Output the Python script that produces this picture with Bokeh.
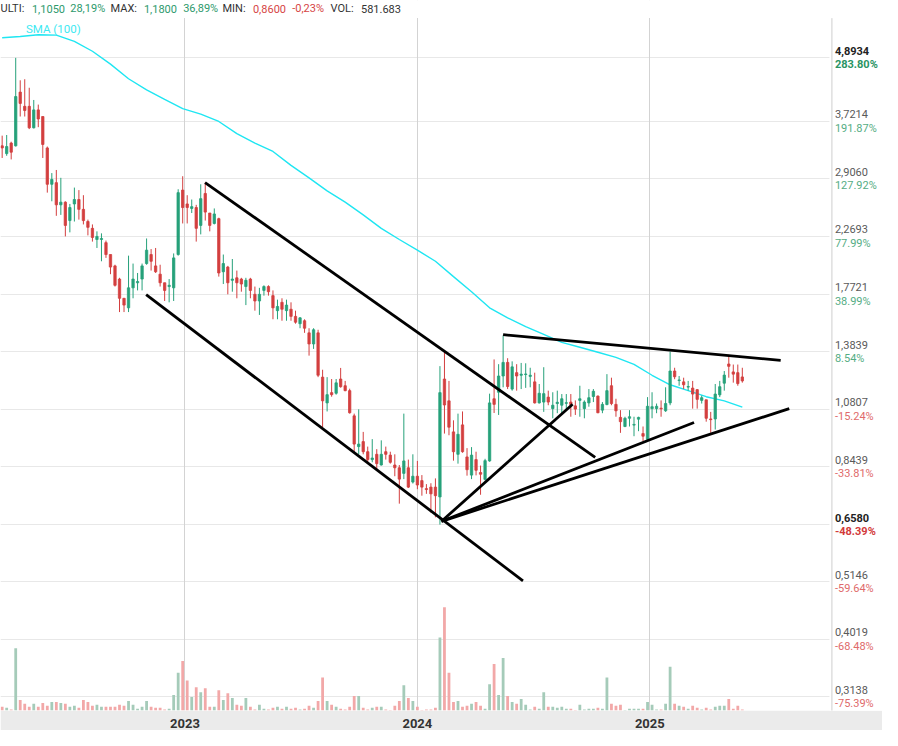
import numpy as np
from bokeh.plotting import figure
from bokeh.models import Range1d, LinearScale, LogScale, FixedTicker, Grid, ColumnDataSource
from bokeh.core.properties import value
from bokeh.embed import file_html
from bokeh.resources import INLINE

# ---------------- data (weekly candles, index 0 = first visible week) ----------------
opens = [3.35, 3.24, 3.39, 3.35, 4.22, 3.97, 3.97, 3.62, 3.91, 3.80,
         3.32, 2.84, 2.86, 2.60, 2.63, 2.43, 2.61, 2.66, 2.55, 2.42,
         2.35, 2.24, 2.24, 2.21, 2.10, 2.00, 1.89, 1.74, 1.67, 1.82,
         1.86, 1.89, 2.02, 2.10, 2.00, 1.93, 1.86, 1.83, 1.82, 2.10,
         2.77, 2.61, 2.56, 2.57, 2.38, 2.73, 2.51, 2.40, 2.45, 1.95,
         1.99, 1.88, 1.90, 1.89, 1.83, 1.89, 1.77, 1.72, 1.80, 1.83,
         1.76, 1.65, 1.71, 1.65, 1.66, 1.61, 1.56, 1.58, 1.50, 1.43,
         1.50, 1.24, 1.11, 1.16, 1.157, 1.23, 1.195, 1.17, 1.05, 0.92,
         0.94, 0.90, 0.870, 0.89, 0.85, 0.90, 0.887, 0.85, 0.84, 0.82,
         0.84, 0.79, 0.81, 0.795, 0.768, 0.773, 0.773, 0.741, 1.23, 1.12,
         0.98, 0.89, 1.01, 0.88, 0.814, 0.87, 0.823, 0.799, 0.865, 1.13,
         1.162, 1.246, 1.321, 1.178, 1.264, 1.250, 1.254, 1.244, 1.215, 1.110,
         1.114, 1.138, 1.083, 1.107, 1.099, 1.108, 1.114, 1.096, 1.122, 1.083,
         1.110, 1.141, 1.143, 1.076, 1.102, 1.195, 1.103, 1.043, 1.003, 1.039,
         1.009, 1.035, 0.973, 0.949, 1.083, 1.083, 1.085, 1.073, 1.110, 1.273,
         1.222, 1.215, 1.188, 1.183, 1.175, 1.122, 1.125, 1.036, 1.036, 1.149,
         1.208, 1.312, 1.268, 1.264, 1.241]
highs = [3.50, 3.51, 3.41, 4.89, 4.44, 4.46, 4.30, 4.08, 4.00, 3.80,
         3.34, 2.98, 3.02, 2.92, 2.64, 2.61, 2.80, 2.77, 2.71, 2.44,
         2.39, 2.32, 2.30, 2.23, 2.10, 2.01, 1.90, 1.74, 2.09, 2.02,
         1.94, 2.02, 2.25, 2.15, 2.16, 2.01, 1.86, 1.89, 2.11, 2.78,
         2.94, 2.71, 2.66, 2.60, 2.84, 2.86, 2.51, 2.56, 2.46, 2.10,
         2.00, 2.06, 1.96, 1.90, 1.90, 1.90, 1.83, 1.82, 1.84, 1.84,
         1.80, 1.73, 1.74, 1.73, 1.71, 1.65, 1.605, 1.59, 1.53, 1.53,
         1.52, 1.28, 1.24, 1.23, 1.23, 1.29, 1.22, 1.18, 1.06, 1.08,
         0.98, 0.92, 0.95, 0.91, 0.945, 0.92, 0.90, 0.89, 0.85, 1.06,
         0.87, 0.89, 0.865, 0.814, 0.783, 0.786, 0.8025, 1.30, 1.384, 1.22,
         1.03, 1.06, 1.07, 0.914, 0.918, 0.90, 0.848, 0.873, 1.155, 1.338,
         1.311, 1.484, 1.345, 1.327, 1.311, 1.318, 1.316, 1.291, 1.264, 1.204,
         1.294, 1.17, 1.162, 1.17, 1.153, 1.153, 1.153, 1.122, 1.195, 1.122,
         1.178, 1.178, 1.146, 1.114, 1.256, 1.237, 1.130, 1.076, 1.046, 1.076,
         1.046, 1.046, 1.003, 1.138, 1.162, 1.107, 1.122, 1.187, 1.384, 1.291,
         1.246, 1.237, 1.220, 1.220, 1.178, 1.146, 1.125, 1.068, 1.204, 1.220,
         1.273, 1.365, 1.309, 1.309, 1.291]
lows = [3.18, 3.21, 3.16, 3.34, 3.80, 3.80, 3.60, 3.61, 3.63, 3.18,
        2.74, 2.64, 2.48, 2.49, 2.27, 2.31, 2.42, 2.44, 2.39, 2.28,
        2.22, 2.16, 2.04, 2.07, 1.93, 1.83, 1.64, 1.64, 1.64, 1.74,
        1.80, 1.80, 2.01, 1.96, 1.94, 1.83, 1.72, 1.71, 1.72, 2.09,
        2.40, 2.40, 2.51, 2.22, 2.29, 2.43, 2.32, 2.39, 1.91, 1.85,
        1.77, 1.79, 1.74, 1.79, 1.69, 1.74, 1.65, 1.62, 1.76, 1.76,
        1.59, 1.59, 1.58, 1.58, 1.58, 1.56, 1.53, 1.50, 1.36, 1.40,
        1.24, 1.00, 1.07, 1.14, 1.15, 1.185, 1.167, 1.06, 0.90, 0.89,
        0.89, 0.86, 0.86, 0.83, 0.848, 0.87, 0.855, 0.81, 0.72, 0.80,
        0.77, 0.785, 0.766, 0.745, 0.751, 0.693, 0.679, 0.658, 0.973, 0.966,
        0.866, 0.855, 0.896, 0.812, 0.80, 0.813, 0.748, 0.796, 0.862, 1.063,
        1.054, 1.187, 1.178, 1.17, 1.17, 1.178, 1.184, 1.187, 1.107, 1.107,
        1.068, 1.099, 1.039, 1.062, 1.054, 1.076, 1.046, 1.054, 1.046, 1.039,
        1.092, 1.114, 1.062, 1.062, 1.099, 1.099, 1.046, 0.976, 1.000, 1.003,
        0.962, 0.983, 0.942, 0.942, 1.039, 1.062, 1.046, 1.068, 1.099, 1.229,
        1.195, 1.178, 1.170, 1.083, 1.083, 1.107, 1.024, 0.976, 0.990, 1.138,
        1.170, 1.237, 1.211, 1.195, 1.211]
closes = [3.32, 3.34, 3.26, 4.14, 4.02, 3.90, 3.62, 3.91, 3.76, 3.37,
          2.84, 2.90, 2.60, 2.63, 2.38, 2.57, 2.66, 2.55, 2.43, 2.36,
          2.26, 2.27, 2.25, 2.10, 1.99, 1.84, 1.74, 1.69, 1.82, 1.89,
          1.87, 2.00, 2.14, 2.04, 1.95, 1.86, 1.80, 1.84, 2.07, 2.74,
          2.57, 2.57, 2.58, 2.35, 2.67, 2.52, 2.38, 2.50, 1.94, 2.02,
          1.86, 1.89, 1.86, 1.85, 1.88, 1.80, 1.72, 1.77, 1.83, 1.79,
          1.67, 1.68, 1.66, 1.69, 1.61, 1.57, 1.60, 1.53, 1.43, 1.52,
          1.25, 1.12, 1.15, 1.15, 1.21, 1.19, 1.17, 1.064, 0.93, 0.93,
          0.90, 0.87, 0.876, 0.855, 0.89, 0.89, 0.86, 0.84, 0.80, 0.865,
          0.773, 0.81, 0.78, 0.773, 0.765, 0.751, 0.745, 1.16, 1.10, 1.00,
          0.90, 0.97, 0.90, 0.833, 0.887, 0.831, 0.817, 0.866, 1.11, 1.103,
          1.246, 1.321, 1.191, 1.296, 1.246, 1.256, 1.257, 1.250, 1.110, 1.157,
          1.155, 1.114, 1.099, 1.113, 1.130, 1.111, 1.102, 1.081, 1.130, 1.114,
          1.135, 1.167, 1.064, 1.103, 1.170, 1.107, 1.073, 1.024, 1.039, 1.046,
          1.012, 1.043, 0.962, 1.094, 1.092, 1.094, 1.082, 1.107, 1.273, 1.242,
          1.225, 1.200, 1.191, 1.153, 1.127, 1.135, 1.039, 1.033, 1.153, 1.190,
          1.251, 1.299, 1.256, 1.206, 1.220]
volumes = [1.9, 1.4, 0.5, 31.9, 5.4, 3.4, 1.9, 3.4, 1.9, 3.9,
           2.4, 4.4, 4.4, 3.9, 3.4, 1.9, 2.4, 1.4, 5.4, 4.4,
           2.4, 2.9, 1.9, 1.9, 1.9, 1.9, 2.9, 2.4, 4.9, 2.9,
           0.9, 1.9, 4.9, 1.9, 1.4, 1.4, 0.5, 0.9, 7.9, 19.4,
           25.4, 15.4, 6.9, 11.9, 9.4, 11.4, 1.9, 1.9, 10.4, 5.4,
           8.9, 6.4, 2.9, 2.4, 6.4, 1.9, 0.5, 2.9, 0.9, 0.5,
           1.4, 1.9, 0.9, 1.9, 0.9, 1.4, 0.5, 0.9, 2.4, 1.4,
           4.9, 16.9, 4.9, 2.9, 1.9, 0.9, 0.5, 1.9, 7.4, 7.4,
           1.4, 0.5, 1.4, 1.9, 1.9, 0.5, 0.2, 2.4, 4.9, 12.9,
           6.4, 4.9, 1.9, 0.2, 0.5, 0.5, 1.4, 37.4, 52.9, 19.4,
           4.4, 4.9, 1.9, 2.4, 3.4, 4.4, 2.4, 0.9, 13.4, 23.9,
           7.9, 26.9, 7.4, 4.4, 3.4, 5.9, 2.9, 0.5, 1.9, 0.9,
           9.4, 1.9, 1.9, 1.4, 1.9, 0.9, 0.9, 0.2, 2.9, 0.5,
           0.9, 0.9, 1.4, 0.9, 16.9, 3.4, 2.4, 2.9, 0.2, 0.9,
           0.9, 0.9, 0.9, 4.4, 2.9, 0.5, 0.5, 3.4, 22.4, 3.4,
           2.4, 1.9, 0.9, 2.4, 1.4, 0.5, 1.4, 0.5, 1.9, 2.4,
           2.4, 5.9, 0.9, 2.4, 0.5]

sma_index = list(range(0, 165, 4))
sma_values = [5.33, 5.36, 5.40, 5.39, 5.25, 5.03, 4.76, 4.47, 4.26, 4.09,
              3.93, 3.84, 3.72, 3.53, 3.39, 3.27, 3.08, 2.92, 2.76, 2.63,
              2.49, 2.35, 2.24, 2.14, 2.04, 1.91, 1.79, 1.67, 1.60, 1.54,
              1.49, 1.44, 1.41, 1.38, 1.35, 1.31, 1.25, 1.20, 1.17, 1.14,
              1.12, 1.09]

price_ticks = [4.8934, 3.7214, 2.9060, 2.2693, 1.7721, 1.3839, 1.0807, 0.8439, 0.6580, 0.5146, 0.4019, 0.3138]
price_labels = ["4,8934", "3,7214", "2,9060", "2,2693", "1,7721", "1,3839", "1,0807", "0,8439", "0,6580", "0,5146", "0,4019", "0,3138"]
pct_labels = ["283.80%", "191.87%", "127.92%", "77.99%", "38.99%", "8.54%", "-15.24%", "-33.81%", "-48.39%", "-59.64%", "-68.48%", "-75.39%"]
highlighted = [True, False, False, False, False, False, False, False, True, False, False, False]

year_ticks = [40.5, 92, 143.5]
year_labels = ["2023", "2024", "2025"]

# drawn trend lines (candle index, price)
trend_x0 = [44.96, 31.9, 97.35, 97.35, 97.35, 111.0]
trend_y0 = [2.861, 1.767, 0.6674, 0.6674, 0.6674, 1.488]
trend_x1 = [131.4, 115.4, 126.4, 153.3, 174.4, 172.5]
trend_y1 = [0.878, 0.5168, 1.1035, 1.0203, 1.0829, 1.3325]

header_words = ["ULTI:", "1,1050", "28,19%", "MAX:", "1,1800", "36,89%", "MIN:", "0,8600", "-0,23%", "VOL:", "581.683"]
header_kind = ["label", "up", "up", "label", "up", "up", "label", "down", "down", "label", "label"]

# ---------------- layout ----------------
W, H = 882, 730
AXIS_H = 18
REF_W = 898.0
sx = W / REF_W
X0, X1 = -0.37, 195.06
Y0, Y1 = 0.296, 6.256
HEADER_PRICE = 5.80
GRID_END = 183.3
AXIS_X = 183.85
FONT = value("Roboto")

UP, DOWN = "#26a17a", "#d33f3f"
VUP, VDOWN = "#a5cbb9", "#f2a8a8"

p = figure(width=W, height=H, output_backend="svg", toolbar_location=None,
           x_range=Range1d(X0, X1), y_range=Range1d(Y0, Y1),
           y_axis_type="log", y_axis_location=None,
           min_border=0, min_border_bottom=AXIS_H,
           background_fill_color="white", border_fill_color="#ebebeb",
           outline_line_color=None)
p.y_scale = LogScale()
p.grid.visible = False
p.extra_y_ranges = {"vol": Range1d(0, 364)}
p.extra_y_scales = {"vol": LinearScale()}

p.add_layout(Grid(dimension=1, ticker=FixedTicker(ticks=price_ticks),
                  grid_line_color="#e8e8e8", grid_line_width=1))
p.add_layout(Grid(dimension=0, ticker=FixedTicker(ticks=year_ticks),
                  grid_line_color="#d3d3d3", grid_line_width=1))

ax = p.xaxis[0]
ax.ticker = FixedTicker(ticks=year_ticks)
ax.major_label_overrides = {t: l for t, l in zip(year_ticks, year_labels)}
ax.axis_line_color = None
ax.major_tick_line_color = None
ax.minor_tick_line_color = None
ax.major_label_standoff = 2
ax.major_label_text_font = "Roboto"
ax.major_label_text_font_size = "13px"
ax.major_label_text_font_style = "bold"
ax.major_label_text_color = "#333333"

idx = np.arange(len(opens))
o = np.array(opens); c = np.array(closes)
inc = c >= o
src = ColumnDataSource(dict(
    x=idx, o=o, h=np.array(highs), l=np.array(lows), c=c,
    top=np.maximum(o, c), bottom=np.minimum(o, c),
    color=[UP if i else DOWN for i in inc],
    vcolor=[VUP if i else VDOWN for i in inc],
    vol=np.array(volumes)))

p.vbar(x="x", width=0.62, top="vol", bottom=0, fill_color="vcolor", line_color=None,
       y_range_name="vol", source=src)
p.line(sma_index, sma_values, line_color="#1fe6f2", line_width=1.4)
p.segment(x0="x", y0="l", x1="x", y1="h", line_color="color", line_width=1, source=src)
p.vbar(x="x", width=0.52, top="top", bottom="bottom", fill_color="color",
       line_color="color", line_width=0.8, source=src)
p.segment(trend_x0, trend_y0, trend_x1, trend_y1, line_color="black", line_width=2.8)

# header band and right price-scale band (white, covering grid lines)
p.quad(left=[X0], right=[X1], bottom=[HEADER_PRICE], top=[Y1 * 1.2], fill_color="white", line_color=None)
p.quad(left=[GRID_END], right=[X1], bottom=[Y0 * 0.8], top=[Y1 * 1.2], fill_color="white", line_color=None)
p.segment([AXIS_X], [Y0 * 0.8], [AXIS_X], [HEADER_PRICE], line_color="#cfcfcf", line_width=1)

# right price scale labels
pl_norm = dict(x=[], y=[], t=[], pc=[], pct=[])
pl_bold = dict(x=[], y=[], t=[], pc=[], pct=[])
for tv, tl, pt, hl in zip(price_ticks, price_labels, pct_labels, highlighted):
    d = pl_bold if hl else pl_norm
    d["x"].append(AXIS_X); d["y"].append(tv); d["t"].append(tl); d["pct"].append(pt)
    neg = pt.startswith("-")
    if hl:
        d["pc"].append("#d23a3a" if neg else "#2a9464")
    else:
        d["pc"].append("#e06a6a" if neg else "#55ad84")
for d, style, col in ((pl_norm, "normal", "#5a5a5a"), (pl_bold, "bold", "#222222")):
    s = ColumnDataSource(d)
    p.text(x="x", y="y", text="t", source=s, x_offset=3, y_offset=-7,
           text_color=col, text_font=FONT, text_font_size="11px", text_font_style=style,
           text_baseline="middle", text_align="left")
    p.text(x="x", y="y", text="pct", source=s, x_offset=3, y_offset=7,
           text_color="pc", text_font=FONT, text_font_size="11px", text_font_style=style,
           text_baseline="middle", text_align="left")

# header
header_px = [0, 32, 71, 112, 146, 186, 226, 257, 297, 336, 367]
kind_color = {"label": "#333333", "up": "#2e9a6c", "down": "#d64545"}
hsrc = ColumnDataSource(dict(x=[X0] * len(header_words), y=[Y1] * len(header_words),
                             t=header_words, xo=[v * sx for v in header_px],
                             col=[kind_color[k] for k in header_kind]))
p.text(x="x", y="y", text="t", x_offset="xo", y_offset=8, text_color="col", source=hsrc,
       text_font=FONT, text_font_size="11px", text_baseline="middle", text_align="left")

# SMA legend label
p.text(x=[X0], y=[Y1], text=["SMA (100)"], x_offset=26 * sx, y_offset=28,
       text_color="#3ee9f2", text_font=FONT, text_font_size="11.5px",
       text_baseline="middle", text_align="left")

open("out.html", "w").write(file_html(p, INLINE))
